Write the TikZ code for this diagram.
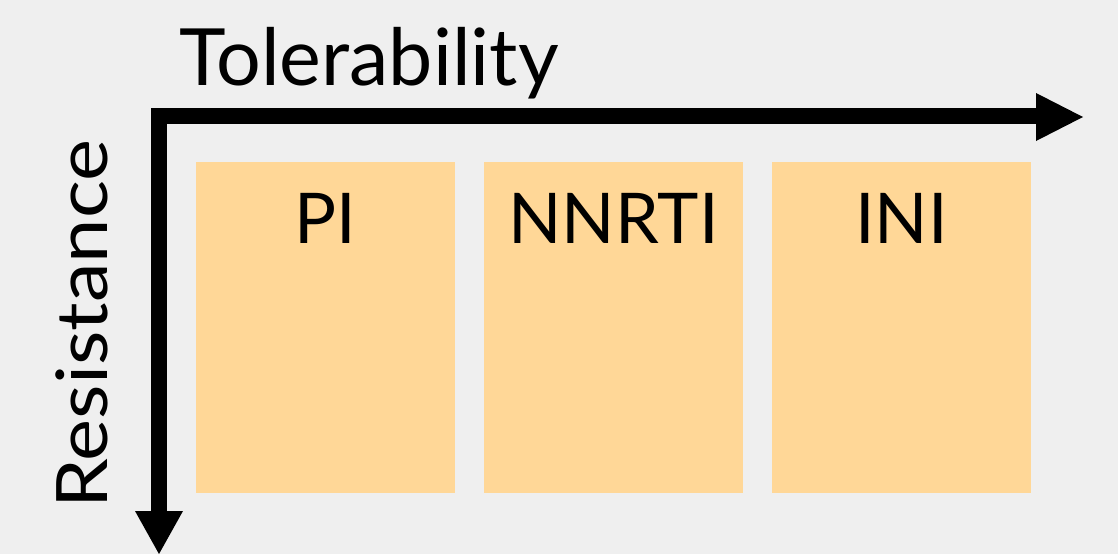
\documentclass[tikz,border=0pt]{standalone}
\usepackage{fontspec}
\setmainfont{Lato}
\definecolor{bgc}{HTML}{EFEFEF}
\definecolor{boxc}{HTML}{FFD797}
\begin{document}
\begin{tikzpicture}[x=1pt,y=-1pt,
  catbox/.style={fill=boxc,draw=none},
  catlabel/.style={anchor=base,inner sep=0pt,font=\fontsize{70}{84}\selectfont},
  axislabel/.style={inner sep=0pt}]
\fill[bgc] (0,0) rectangle (1118,554);
\useasboundingbox (0,0) rectangle (1118,554);
% boxes
\fill[catbox] (196,162) rectangle (455,493);
\fill[catbox] (484,162) rectangle (743,493);
\fill[catbox] (772,162) rectangle (1031,493);
\node[catlabel] (pi) at (325.5,243) {PI};
\node[catlabel] (nnrti) at (613.5,243) {NNRTI};
\node[catlabel] (ini) at (901.5,243) {INI};
% axes
\coordinate (corner) at (159,116);
\coordinate (xend) at (1037,116);
\coordinate (yend) at (159,512);
\draw[line width=15.5pt,line join=miter] (yend) -- (corner) -- (xend);
\fill (1036,93) -- (1083,117) -- (1036,141) -- cycle;
\fill (135,511) -- (159,554) -- (183,511) -- cycle;
% axis labels
\node[axislabel,anchor=base west,font=\fontsize{79}{95}\selectfont] (tol) at (179,85) {Tolerability};
\node[axislabel,anchor=base,rotate=90,font=\fontsize{71}{85}\selectfont] (res) at (107,324) {\scalebox{1.12}[1]{Resistance}};
\end{tikzpicture}
\end{document}
